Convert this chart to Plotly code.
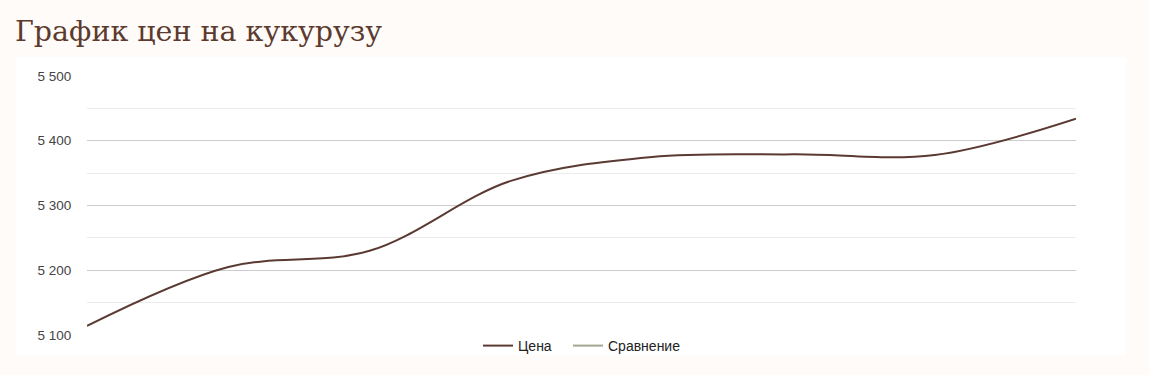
import plotly.graph_objects as go

# Data
periods = [1, 2, 3, 4, 5, 6, 7, 8]
price = [5114, 5205, 5230, 5338, 5375, 5379, 5378, 5434]
comparison = [None, None, None, None, None, None, None, None]
y_ticks = [5100, 5200, 5300, 5400, 5500]

W, H = 1149, 375
L, R, T, B = 87, 73, 76, 40
pw, ph = W - L - R, H - T - B

def px_x(x):
    return (x - L) / pw

def px_y(y):
    return (H - y - B) / ph

fig = go.Figure()
fig.add_trace(go.Scatter(
    x=periods, y=price, name="Цена", mode="lines", legend="legend",
    line=dict(color="#5b3a33", width=2, shape="spline", smoothing=1.0),
))
fig.add_trace(go.Scatter(
    x=periods, y=comparison, name="Сравнение", mode="lines", legend="legend2",
    line=dict(color="#a4a78f", width=2),
))

legend_style = dict(
    orientation="h", xanchor="left", yanchor="middle", y=px_y(346),
    font=dict(family="Arial, Liberation Sans, sans-serif", size=14, color="#222"),
    bgcolor="rgba(0,0,0,0)", itemwidth=30,
)

fig.update_layout(
    width=W, height=H,
    margin=dict(l=L, r=R, t=T, b=B),
    paper_bgcolor="#fffbf8",
    plot_bgcolor="rgba(0,0,0,0)",
    separators=", ",
    font=dict(family="Arial, Liberation Sans, sans-serif", size=13, color="#444"),
    title=dict(
        text="График цен на кукурузу",
        font=dict(family="DejaVu Serif, serif", size=28.5, color="#5c3a2e"),
        xref="container", yref="container",
        x=15 / W, xanchor="left",
        y=1 - 31 / H, yanchor="middle",
    ),
    showlegend=True,
    legend=dict(x=px_x(478), **legend_style),
    legend2=dict(x=px_x(568), **legend_style),
    shapes=[dict(
        type="rect", xref="paper", yref="paper",
        x0=px_x(16), x1=px_x(1126), y0=px_y(355), y1=px_y(57),
        fillcolor="#ffffff", line=dict(width=0), layer="below",
    )],
)

fig.update_xaxes(
    range=[periods[0], periods[-1]], showgrid=False, zeroline=False,
    showticklabels=False, showline=False, ticks="",
)
fig.update_yaxes(
    range=[5100, 5500], tickvals=y_ticks, separatethousands=True, tickformat=",d",
    showgrid=True, gridcolor="#cccccc", gridwidth=1, zeroline=False, showline=False,
    ticks="outside", ticklen=12, tickcolor="rgba(0,0,0,0)",
    tickfont=dict(family="Arial, Liberation Sans, sans-serif", size=13.5, color="#444"),
    minor=dict(dtick=50, tick0=5100, showgrid=True, gridcolor="#ebebeb", gridwidth=1, ticks=""),
)

fig.write_html("out.html")
